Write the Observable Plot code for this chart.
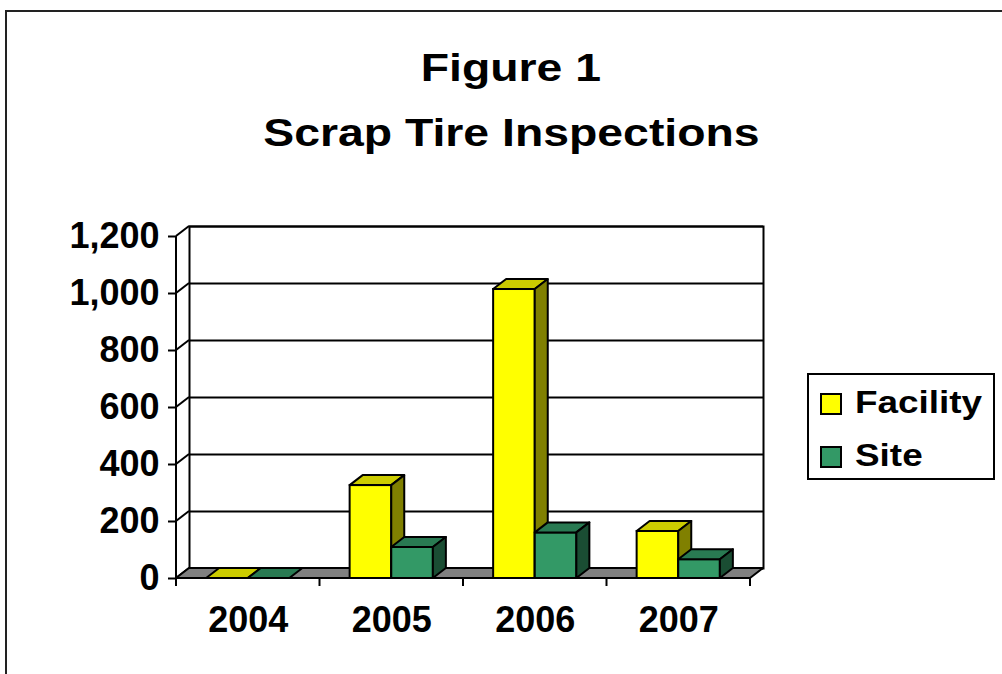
<!DOCTYPE html>
<html><head><meta charset="utf-8">
<script src="https://cdn.jsdelivr.net/npm/d3@7"></script>
<script src="https://cdn.jsdelivr.net/npm/@observablehq/plot@0.6"></script>
<style>
body{margin:0;background:#fff;font-family:Arial,"Liberation Sans",sans-serif;}
#page{position:relative;width:1002px;height:674px;overflow:hidden;background:#fff;}
#border{position:absolute;left:5px;top:10px;width:1100px;height:800px;border-left:2px solid #222;border-top:2px solid #222;}
#title{position:absolute;left:20px;top:36px;width:982px;text-align:center;font-weight:bold;font-size:38px;line-height:65px;color:#000;}
#title div span{display:inline-block;transform:scaleX(1.22);}
#chart{position:absolute;left:0;top:170px;}
#legend{position:absolute;left:807px;top:373px;width:184px;height:103px;border:2px solid #000;background:#fff;}
.item{position:absolute;left:0;font-weight:bold;font-size:31px;color:#000;}
.sw{position:absolute;width:18px;height:18px;border:2px solid #000;}
.lab{position:absolute;white-space:nowrap;transform:scaleX(1.19);transform-origin:left center;line-height:31px;}
</style></head>
<body>
<div id="page">
  <div id="border"></div>
  <div id="title"></div>
  <div id="chart"></div>
  <div id="legend"></div>
</div>
<script>
// ---- data ----
const titleLines = ["Figure 1", "Scrap Tire Inspections"];
const years = ["2004", "2005", "2006", "2007"];
const facility = [0, 326, 1014, 165];
const site = [0, 109, 160, 66];
const yTicks = [0, 200, 400, 600, 800, 1000, 1200];
const seriesNames = ["Facility", "Site"];

// ---- style / layout ----
const colors = {
  Facility: {front: "#FFFF00", top: "#CCCC00", side: "#808000"},
  Site: {front: "#339966", top: "#297A52", side: "#1A4D33"}
};
const W = 1002, H = 504, ML = 176, MR = 252, MT = 66, MB = 96;
const DX = 13, DY = -10;
const BAR_FRAC = 0.29;
const bwConst = (W - ML - MR) / years.length;
const barWConst = bwConst * BAR_FRAC;

const data = years.map((year, i) => ({year, Facility: facility[i], Site: site[i]}));

// title
const t = document.getElementById("title");
titleLines.forEach(s => { const d = document.createElement("div"); const sp = document.createElement("span"); sp.textContent = s; d.appendChild(sp); t.appendChild(d); });

// legend
const lg = document.getElementById("legend");
seriesNames.forEach((s, i) => {
  const sw = document.createElement("div");
  sw.className = "sw";
  sw.style.left = "11px"; sw.style.top = (18 + i * 53) + "px";
  sw.style.background = colors[s].front;
  lg.appendChild(sw);
  const lb = document.createElement("div");
  lb.className = "item lab";
  lb.style.left = "46px"; lb.style.top = (12 + i * 53) + "px";
  lb.textContent = s;
  lg.appendChild(lb);
});

function poly(g, pts, fill) {
  g.append("polygon")
    .attr("points", pts.map(p => p.join(",")).join(" "))
    .attr("fill", fill).attr("stroke", "black").attr("stroke-width", 2)
    .attr("stroke-linejoin", "round");
}
function line(g, x1, y1, x2, y2) {
  g.append("line").attr("x1", x1).attr("y1", y1).attr("x2", x2).attr("y2", y2)
    .attr("stroke", "black").attr("stroke-width", 2);
}

function leftWall(index, {x, y}) {
  const g = d3.create("svg:g");
  const [x0, x1] = x.range();
  line(g, x0, y(0), x0, y(yTicks[yTicks.length - 1]));
  yTicks.forEach(v => line(g, x0, y(v), x0 + DX, y(v) + DY));
  return g.node();
}
function floor(index, {x, y}) {
  const g = d3.create("svg:g");
  const [x0, x1] = x.range();
  const y0 = y(0);
  poly(g, [[x0, y0], [x1, y0], [x1 + DX, y0 + DY], [x0 + DX, y0 + DY]], "#808080");
  years.map(yr => x(yr)).concat([x1]).forEach(xx => line(g, xx, y0, xx, y0 + 8));
  return g.node();
}
function faces(name, k) {
  return (index, {x, y}) => {
    const g = d3.create("svg:g");
    const c = colors[name];
    const bw = x.bandwidth();
    const w = bw * BAR_FRAC;
    data.forEach(d => {
      const v = d[name];
      const xl = x(d.year) + bw / 2 - w + k * w, xr = xl + w;
      const yb = y(0), yt = y(v);
      if (v === 0) {
        poly(g, [[xl, yb], [xr, yb], [xr + DX, yb + DY], [xl + DX, yb + DY]], c.top);
      } else {
        poly(g, [[xl, yt], [xr, yt], [xr + DX, yt + DY], [xl + DX, yt + DY]], c.top);
        poly(g, [[xr, yt], [xr + DX, yt + DY], [xr + DX, yb + DY], [xr, yb]], c.side);
      }
    });
    return g.node();
  };
}

const plot = Plot.plot({
  width: W, height: H,
  marginLeft: ML, marginRight: MR, marginTop: MT, marginBottom: MB,
  style: {fontFamily: "Arial, 'Liberation Sans', sans-serif", color: "black", background: "transparent", overflow: "visible"},
  x: {type: "band", domain: years, padding: 0, round: false, label: null},
  y: {domain: [0, 1200], label: null},
  marks: [
    Plot.frame({dx: DX, dy: DY, stroke: "black", strokeWidth: 2}),
    Plot.ruleY(yTicks, {dx: DX, dy: DY, stroke: "black", strokeWidth: 2}),
    leftWall,
    floor,
    Plot.barY(data, {filter: d => d.Facility > 0, x: "year", y: "Facility", fill: colors.Facility.front, stroke: "black", strokeWidth: 2,
      insetLeft: bwConst / 2 - barWConst, insetRight: bwConst / 2}),
    faces("Facility", 0),
    Plot.barY(data, {filter: d => d.Site > 0, x: "year", y: "Site", fill: colors.Site.front, stroke: "black", strokeWidth: 2,
      insetLeft: bwConst / 2, insetRight: bwConst / 2 - barWConst}),
    faces("Site", 1),
    Plot.axisY({ticks: yTicks, tickFormat: d3.format(","), tickSize: 8, tickPadding: 9, fontSize: 36, fontWeight: "bold", strokeWidth: 2, label: null}),
    Plot.axisX({tickSize: 0, tickPadding: 28, fontSize: 36, fontWeight: "bold", label: null})
  ]
});
document.getElementById("chart").appendChild(plot);
</script>
</body></html>
